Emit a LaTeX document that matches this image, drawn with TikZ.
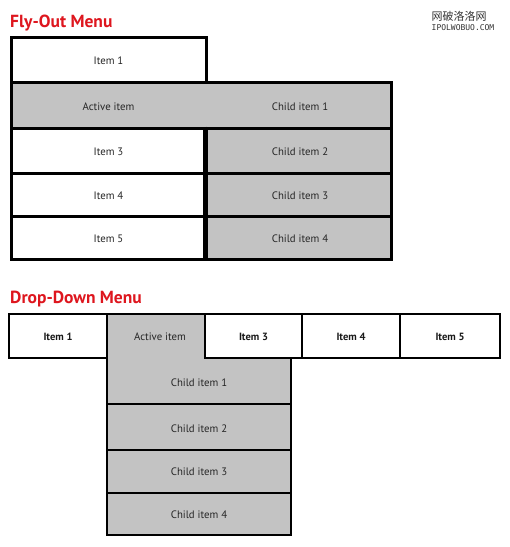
\documentclass[tikz,border=0pt]{standalone}
\usepackage{fontspec}
\setmainfont{PT Sans}
\newfontfamily\cjkfont{Noto Sans CJK SC}
\newfontfamily\wmfont{DejaVu Sans Mono}
\definecolor{menugrey}{RGB}{195,195,195}
\definecolor{titlered}{RGB}{222,22,30}
\tikzset{
  whitebox/.style={draw=black, fill=white, line width=3pt, inner sep=0pt, minimum height=#1, anchor=center},
  greybox/.style={draw=black, fill=menugrey, line width=3pt, inner sep=0pt, minimum height=#1, anchor=center},
  itemtext/.style={font=\fontsize{10.8}{12}\selectfont, text=black!85, inner sep=0pt},
  bolditem/.style={font=\fontsize{10.5}{12}\selectfont\bfseries, text=black!90, inner sep=0pt},
  title/.style={font=\fontsize{17.5}{19}\selectfont\bfseries, text=titlered, anchor=base west, inner sep=0pt},
  dline/.style={line width=2.5pt},
}
\begin{document}
\begin{tikzpicture}[x=1pt,y=-1pt]
\useasboundingbox[fill=white] (0,0) rectangle (510,547);

% watermark
\node[font=\cjkfont\fontsize{11}{12}\selectfont, text=black!80, inner sep=0pt] (wm1) at (459,16) {网破洛洛网};
\node[font=\wmfont\fontsize{8}{9}\selectfont, text=black!80, inner sep=0pt] (wm2) at (463,28) {IPOLWOBUO.COM};

% ===== Fly-Out Menu =====
\node[title] (t1) at (10,27) {Fly-Out Menu};

\node[whitebox=45pt, minimum width=195pt] (f1) at (108.5,59.5) {};
\node[greybox=46pt, minimum width=380pt] (frow) at (201,105) {};
\node[whitebox=45pt, minimum width=195pt] (f3) at (108.5,150.5) {};
\node[whitebox=43pt, minimum width=195pt] (f4) at (108.5,194.5) {};
\node[whitebox=43pt, minimum width=195pt] (f5) at (108.5,237.5) {};
\node[greybox=45pt, minimum width=185pt] (fc2) at (298.5,150.5) {};
\node[greybox=43pt, minimum width=185pt] (fc3) at (298.5,194.5) {};
\node[greybox=43pt, minimum width=185pt] (fc4) at (298.5,237.5) {};
\draw[line width=4pt] (fc2.north west) -- (fc4.south west);

\node[itemtext] (f1t) at (108.5,60.5) {Item 1};
\node[itemtext] (fat) at (108.5,106.5) {Active item};
\node[itemtext] (fc1t) at (300,106.5) {Child item 1};
\node[itemtext] (f3t) at (108.5,151.5) {Item 3};
\node[itemtext] (f4t) at (108.5,195.5) {Item 4};
\node[itemtext] (f5t) at (108.5,238.5) {Item 5};
\node[itemtext] (fc2t) at (300,152) {Child item 2};
\node[itemtext] (fc3t) at (300,196) {Child item 3};
\node[itemtext] (fc4t) at (300,239) {Child item 4};

% ===== Drop-Down Menu =====
\node[title] (t2) at (10,303) {Drop-Down Menu};

\coordinate (atl) at (107,314);
\coordinate (atr) at (205,314);
\coordinate (acr) at (205,358);
\coordinate (abr) at (291,358);
\coordinate (c1br) at (291,404);
\coordinate (c1bl) at (107,404);
\draw[dline, fill=menugrey] (atl) -- (atr) -- (acr) -- (abr) -- (c1br) -- (c1bl) -- cycle;

\node[whitebox=44pt, minimum width=98pt, line width=2.5pt] (d1) at (58,336) {};
\node[whitebox=44pt, minimum width=97pt, line width=2.5pt] (d3) at (253.5,336) {};
\node[whitebox=44pt, minimum width=98pt, line width=2.5pt] (d4) at (351,336) {};
\node[whitebox=44pt, minimum width=100pt, line width=2.5pt] (d5) at (450,336) {};

\node[greybox=46pt, minimum width=184pt, line width=2.5pt] (dc2) at (199,427) {};
\node[greybox=43pt, minimum width=184pt, line width=2.5pt] (dc3) at (199,471.5) {};
\node[greybox=42pt, minimum width=184pt, line width=2.5pt] (dc4) at (199,514) {};

\node[bolditem] (d1t) at (58,337) {Item 1};
\node[itemtext] (dat) at (160,336.5) {Active item};
\node[bolditem] (d3t) at (253.5,337) {Item 3};
\node[bolditem] (d4t) at (351,337) {Item 4};
\node[bolditem] (d5t) at (450,337) {Item 5};
\node[itemtext] (dc1t) at (199,382.5) {Child item 1};
\node[itemtext] (dc2t) at (199,428.5) {Child item 2};
\node[itemtext] (dc3t) at (199,472) {Child item 3};
\node[itemtext] (dc4t) at (199,515) {Child item 4};
\end{tikzpicture}
\end{document}
